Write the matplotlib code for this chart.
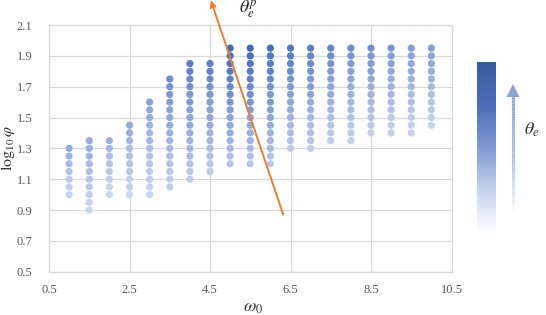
import numpy as np
import matplotlib
matplotlib.use("Agg")
import matplotlib.pyplot as plt
from matplotlib.colors import LinearSegmentedColormap
from matplotlib.collections import LineCollection

# ---- data ----
omega = [1.0, 1.5, 2.0, 2.5, 3.0, 3.5, 4.0, 4.5, 5.0, 5.5,
         6.0, 6.5, 7.0, 7.5, 8.0, 8.5, 9.0, 9.5, 10.0]
phi_low = [1.0, 0.9, 1.0, 1.0, 1.0, 1.05, 1.1, 1.15, 1.2, 1.2,
           1.2, 1.3, 1.3, 1.35, 1.35, 1.4, 1.4, 1.4, 1.45]
phi_high = [1.3, 1.35, 1.35, 1.45, 1.6, 1.75, 1.85, 1.85, 1.95, 1.95,
            1.95, 1.95, 1.95, 1.95, 1.95, 1.95, 1.95, 1.95, 1.95]
phi_step = 0.05
# relative shade of the top dot in each column (theta_e level)
col_strength = [0.55, 0.55, 0.5, 0.55, 0.6, 0.75, 0.85, 0.85, 1.0, 1.0,
                0.95, 0.9, 0.85, 0.8, 0.75, 0.75, 0.7, 0.65, 0.65]
arrow_start = (6.32, 0.87)
arrow_end = (4.52, 2.26)
xticks = [0.5, 2.5, 4.5, 6.5, 8.5, 10.5]
yticks = [0.5, 0.7, 0.9, 1.1, 1.3, 1.5, 1.7, 1.9, 2.1]

plt.rcParams['mathtext.fontset'] = 'stix'
W, H = 546, 315
fig = plt.figure(figsize=(W / 100, H / 100), dpi=100)
ax = fig.add_axes([49 / W, 1 - 271.7 / H, 402.5 / W, 246.7 / H])

cmap = LinearSegmentedColormap.from_list('b', ['#e4eaf6', '#b9c7e8', '#809cd8', '#3c69bd'])

xs, ys, cs = [], [], []
for w, lo, hi, st in zip(omega, phi_low, phi_high, col_strength):
    n = int(round((hi - lo) / phi_step)) + 1
    vals = np.linspace(lo, hi, n)
    for v in vals:
        frac = (v - lo) / (hi - lo) if hi > lo else 1.0
        xs.append(w)
        ys.append(v)
        cs.append(st * (0.35 + 0.65 * frac))
ax.scatter(xs, ys, s=27, c=cs, cmap=cmap, vmin=0, vmax=1, linewidths=0, zorder=3)

ax.annotate('', xy=arrow_end, xytext=arrow_start, annotation_clip=False,
            arrowprops=dict(arrowstyle='-|>', color='#ED7D31', lw=1.4,
                            mutation_scale=9, shrinkA=0, shrinkB=0), zorder=5)
ax.text(5.44, 2.2, r'$\theta_e^p$', fontsize=13, color='#222222',
        ha='center', va='center', clip_on=False)

ax.set_xlim(0.5, 10.5)
ax.set_ylim(0.5, 2.1)
ax.set_xticks(xticks)
ax.set_yticks(yticks)
ax.set_xticklabels([f'{t:g}' for t in xticks], family='Liberation Serif', fontsize=9, color='#595959')
ax.set_yticklabels([f'{t:.1f}' for t in yticks], family='Liberation Serif', fontsize=9, color='#595959')
ax.tick_params(axis='both', length=0)
ax.tick_params(axis='x', pad=9)
ax.tick_params(axis='y', pad=12)
ax.grid(True, color='#d9d9d9', lw=0.9)
ax.set_axisbelow(True)
for s in ax.spines.values():
    s.set_color('#d9d9d9')
    s.set_linewidth(0.9)

ax.text(0.507, -0.143, r'$\omega_0$', fontsize=13, color='#333333',
        ha='center', va='center', transform=ax.transAxes)
ax.text(-0.103, 0.5, r'$\log_{10}\varphi$', fontsize=11.5, color='#333333',
        ha='center', va='center', rotation=90, transform=ax.transAxes)

# legend gradient bar
cax = fig.add_axes([477 / W, 1 - 233 / H, 19 / W, 171 / H])
grad = np.linspace(0, 1, 256)[:, None]
bar_cmap = LinearSegmentedColormap.from_list('bar', ['#ffffff', '#c6d3ee', '#7e9ad3', '#4a6fb8', '#355c9f'])
cax.imshow(grad, aspect='auto', cmap=bar_cmap, origin='lower', extent=[0, 1, 0, 1])
cax.axis('off')

# overlay for the theta_e arrow
ov = fig.add_axes([0, 0, 1, 1])
ov.set_xlim(0, W)
ov.set_ylim(H, 0)
ov.axis('off')
ov.patch.set_alpha(0)
yy = np.linspace(216, 95, 60)
segs = [[(513, yy[i]), (513, yy[i + 1])] for i in range(len(yy) - 1)]
shaft_cmap = LinearSegmentedColormap.from_list('sh', ['#ffffff', '#a9bce3', '#8aa4da'])
lc = LineCollection(segs, colors=shaft_cmap(np.linspace(0, 1, len(segs))), linewidths=2.2)
ov.add_collection(lc)
ov.fill([506.5, 519.5, 513], [97, 97, 84], color='#8aa4da', lw=0)
ov.text(532, 130, r'$\theta_e$', fontsize=13, color='#333333', ha='center', va='center')

fig.savefig('out.png', dpi=100)
